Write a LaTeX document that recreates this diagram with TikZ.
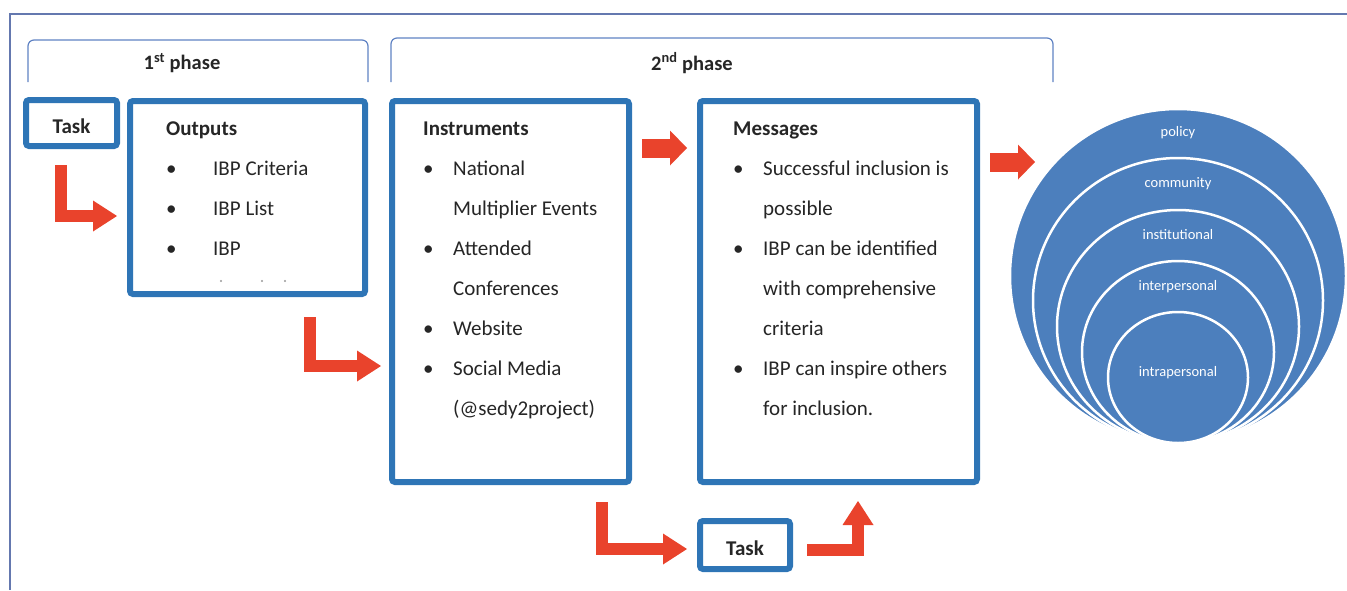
\documentclass[tikz,border=0pt]{standalone}
\usepackage{fontspec}
\setmainfont{Carlito}
\usetikzlibrary{arrows.meta, positioning}
\definecolor{BoxBlue}{RGB}{46,117,182}
\definecolor{ArrowRed}{RGB}{233,67,44}
\definecolor{RingBlue}{RGB}{76,127,189}
\definecolor{FrameBlue}{RGB}{100,120,175}
\definecolor{BraceBlue}{RGB}{95,130,195}

\begin{document}
\begin{tikzpicture}[x=1pt, y=-1pt,
	panel/.style={draw=BoxBlue, line width=6pt, rounded corners=3pt, inner sep=0pt, fill=white},
	items/.style={anchor=base west, inner sep=0pt, align=left, text=black!85, font=\fontsize{21}{40}\selectfont},
	tasktext/.style={text=black!85, text height=22pt, font=\fontsize{21}{25}\selectfont\bfseries},
	phase/.style={text=black!85, font=\fontsize{20.5}{24}\selectfont\bfseries},
	brace/.style={draw=BraceBlue, line width=1.2pt, rounded corners=6pt},
	ring/.style={fill=RingBlue, draw=white, line width=2.5pt},
	ringlabel/.style={text=white, font=\fontsize{14.5}{16}\selectfont},
	elbow/.style={draw=ArrowRed, line width=12pt, line join=miter, -{Triangle[length=24pt, width=31pt, line width=0pt]}},
	push/.style={draw=ArrowRed, line width=19pt, -{Triangle[length=17pt, width=35pt, line width=0pt]}}]
	\useasboundingbox (0,0) rectangle (1347,590);
	\draw[FrameBlue, line width=2pt] (10,590) -- (10,14) -- (1347,14);

	\draw[brace] (28,82) |- (368,40) -- (368,82);
	\draw[brace] (391,82) |- (1053,38) -- (1053,82);
	\node[phase] (phase1) at (182,63) {1\textsuperscript{st} phase};
	\node[phase] (phase2) at (692,63) {2\textsuperscript{nd} phase};

	\node[panel, minimum width=91pt, minimum height=46pt, tasktext] (task1) at (71.5,123) {Task};
	\node[panel, minimum width=235pt, minimum height=193pt] (outputs) at (247.5,197.5) {};
	\node[panel, minimum width=237pt, minimum height=381pt] (instr) at (510.5,291.5) {};
	\node[panel, minimum width=277pt, minimum height=381pt] (msgs) at (838.5,291.5) {};
	\node[panel, minimum width=90pt, minimum height=48pt, tasktext] (task2) at (745,545) {Task};

	\node[items] (outlist) at (166,135) {\begin{tabular}[t]{@{}p{47pt}@{}l@{}}
		\multicolumn{2}{@{}l@{}}{\bfseries Outputs}\\
		\textbullet & IBP Criteria\\
		\textbullet & IBP List\\
		\textbullet & IBP
	\end{tabular}};
	\foreach \x in {221,262,285}
		\fill[black!40] (\x,281) circle (1.1);
	\node[items] (instrlist) at (423,135) {\begin{tabular}[t]{@{}p{30pt}@{}l@{}}
		\multicolumn{2}{@{}l@{}}{\bfseries Instruments}\\
		\textbullet & National\\
		& Multiplier Events\\
		\textbullet & Attended\\
		& Conferences\\
		\textbullet & Website\\
		\textbullet & Social Media\\
		& (@sedy2project)
	\end{tabular}};
	\node[items] (msglist) at (733,135) {\begin{tabular}[t]{@{}p{30pt}@{}l@{}}
		\multicolumn{2}{@{}l@{}}{\bfseries Messages}\\
		\textbullet & Successful inclusion is\\
		& possible\\
		\textbullet & IBP can be identified\\
		& with comprehensive\\
		& criteria\\
		\textbullet & IBP can inspire others\\
		& for inclusion.
	\end{tabular}};

	\foreach \rx/\ry/\lab/\ly [count=\i] in {168/167/policy/133, 145/142.5/community/184,
			121/116.5/institutional/235, 96/91/interpersonal/287, 70/65.5/intrapersonal/373} {
		\path[ring] (1178,{443-\ry}) ellipse [x radius=\rx, y radius=\ry];
		\node[ringlabel] (ring\i) at (1178,\ly) {\lab};
	}

	\coordinate (a1s) at (61,165);   \coordinate (a1e) at (117,216);
	\coordinate (a2s) at (310,317);  \coordinate (a2e) at (381,366);
	\coordinate (a5s) at (602,502);  \coordinate (a5e) at (687,549);
	\coordinate (a6s) at (807,550);  \coordinate (a6e) at (858,501);
	\coordinate (a3) at (0,148);     \coordinate (a4e) at (1035,162);
	\draw[elbow] (a1s) |- (a1e);
	\draw[elbow] (a2s) |- (a2e);
	\draw[elbow] (a5s) |- (a5e);
	\draw[elbow] (a6s) -| (a6e);
	\draw[push, shorten <=10pt, shorten >=10pt] (instr.east |- a3) -- (msgs.west |- a3);
	\draw[push, shorten <=10pt] (msgs.east |- a4e) -- (a4e);
\end{tikzpicture}
\end{document}
